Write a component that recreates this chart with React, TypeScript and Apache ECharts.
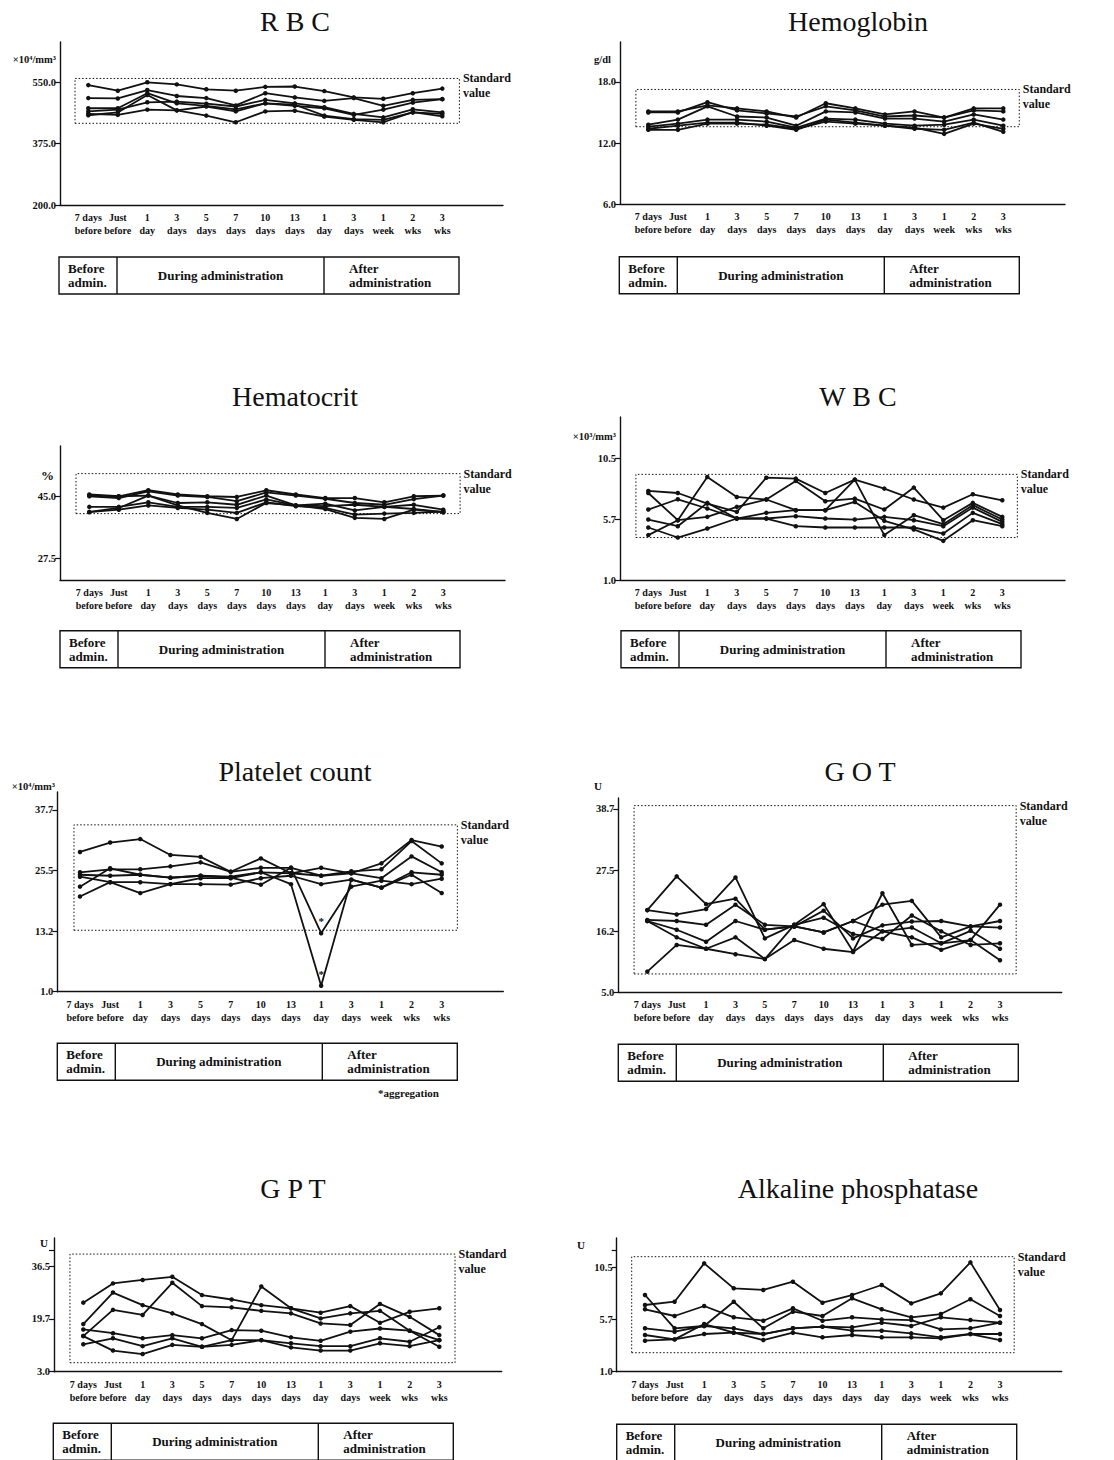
import { useEffect, useRef } from "react";
import * as echarts from "echarts";

// Sampling points along the x axis (shared by all eight panels)
const CATEGORIES = [
  "7 days\nbefore", "Just\nbefore", "1\nday", "3\ndays", "5\ndays", "7\ndays",
  "10\ndays", "13\ndays", "1\nday", "3\ndays", "1\nweek", "2\nwks", "3\nwks",
];

const PHASES = ["Before\nadmin.", "During administration", "After\nadministration"];
const STANDARD_LABEL = "Standard\nvalue";
const AGGREGATION_NOTE = "*aggregation";

// RBC (×10⁴/mm³), one row per subject
const RBC_VALUES = [
  [542, 526, 550, 544, 530, 526, 537, 538, 525, 507, 503, 519, 532],
  [505, 504, 528, 511, 505, 484, 519, 507, 497, 505, 483, 500, 502],
  [476, 476, 519, 490, 483, 473, 490, 483, 476, 457, 472, 492, 502],
  [467, 472, 493, 495, 489, 481, 500, 490, 479, 460, 450, 473, 464],
  [460, 457, 472, 470, 481, 467, 490, 486, 455, 445, 443, 464, 460],
  [456, 464, 514, 470, 455, 436, 467, 469, 452, 443, 436, 465, 453],
];
const RBC_STANDARD = [433, 561];
const RBC_TICKS = [200, 375, 550];
const RBC_TICK_LABELS = ["200.0", "375.0", "550.0"];

// Hemoglobin (g/dl)
const HB_VALUES = [
  [15.1, 15.1, 15.7, 15.4, 15.1, 14.5, 15.9, 15.4, 14.8, 15.1, 14.5, 15.4, 15.4],
  [15.0, 15.0, 16.0, 15.2, 14.9, 14.6, 15.6, 15.2, 14.6, 14.7, 14.5, 15.2, 15.1],
  [13.8, 14.3, 15.6, 14.6, 14.5, 13.7, 15.1, 15.0, 14.4, 14.4, 14.1, 14.8, 14.3],
  [13.6, 13.9, 14.3, 14.3, 14.1, 13.5, 14.4, 14.3, 13.9, 13.7, 13.8, 14.3, 13.7],
  [13.4, 13.7, 14.0, 14.0, 13.7, 13.3, 14.3, 14.0, 13.7, 13.5, 12.9, 13.9, 13.4],
  [13.3, 13.3, 13.9, 13.9, 13.8, 13.4, 14.1, 13.9, 13.7, 13.4, 13.3, 14.0, 13.1],
];
const HB_STANDARD = [13.6, 17.25];
const HB_TICKS = [6, 12, 18];
const HB_TICK_LABELS = ["6.0", "12.0", "18.0"];

// Hematocrit (%)
const HCT_VALUES = [
  [45.5, 45.0, 46.7, 45.5, 45.0, 44.8, 46.7, 45.5, 44.5, 44.5, 43.3, 45.0, 45.2],
  [45.0, 44.5, 46.4, 45.2, 44.8, 43.6, 46.1, 45.2, 44.3, 43.1, 42.6, 44.2, 45.2],
  [45.2, 45.0, 45.2, 43.1, 43.3, 42.6, 45.2, 42.4, 42.2, 42.6, 42.0, 42.6, 41.2],
  [42.0, 42.0, 43.3, 42.0, 42.0, 41.7, 44.1, 42.4, 42.9, 41.0, 42.0, 41.4, 40.5],
  [40.5, 41.2, 42.4, 41.7, 41.2, 40.3, 43.3, 42.2, 41.7, 39.8, 40.1, 40.3, 40.7],
  [40.6, 41.7, 45.2, 42.4, 40.3, 38.6, 43.1, 42.4, 41.4, 38.9, 38.6, 41.2, 40.5],
];
const HCT_STANDARD = [40.1, 51.4];
const HCT_TICKS = [27.5, 45];
const HCT_TICK_LABELS = ["27.5", "45.0"];

// WBC (×10³/mm³)
const WBC_VALUES = [
  [7.94, 7.78, 6.95, 6.31, 8.97, 8.9, 7.78, 8.82, 8.12, 7.27, 6.64, 7.68, 7.21],
  [7.78, 5.66, 9.03, 7.47, 7.27, 8.72, 7.14, 7.34, 6.49, 8.2, 5.66, 7.01, 5.92],
  [6.49, 7.29, 6.57, 5.79, 6.23, 6.44, 6.44, 8.82, 4.5, 6.05, 5.35, 6.83, 5.71],
  [5.71, 5.19, 7.01, 5.79, 5.79, 5.97, 5.79, 5.71, 5.92, 5.66, 5.19, 6.64, 5.53],
  [5.09, 4.31, 5.01, 5.79, 5.79, 5.19, 5.09, 5.09, 5.09, 5.09, 4.62, 6.23, 5.35],
  [4.5, 5.66, 5.92, 6.7, 7.27, 6.44, 6.44, 7.08, 5.61, 4.94, 4.05, 5.66, 5.19],
];
const WBC_STANDARD = [4.31, 9.23];
const WBC_TICKS = [1, 5.75, 10.5];
const WBC_TICK_LABELS = ["1.0", "5.7", "10.5"];

// Platelet count (×10⁴/mm³)
const PLT_VALUES = [
  [29.2, 31.1, 31.8, 28.6, 28.2, 25.2, 27.9, 24.9, 26.0, 24.9, 26.9, 31.6, 30.3],
  [25.1, 25.7, 25.7, 26.3, 27.1, 25.2, 26.0, 26.0, 24.4, 25.3, 25.7, 31.4, 26.9],
  [24.6, 24.4, 24.6, 24.0, 24.4, 24.2, 25.1, 24.9, 24.4, 24.9, 23.9, 28.3, 25.1],
  [24.2, 23.1, 23.1, 22.7, 22.7, 22.6, 23.9, 24.4, 22.7, 23.6, 22.0, 25.1, 24.6],
  [22.2, 25.9, 24.6, 24.0, 24.4, 24.0, 22.6, 26.0, 12.8, 22.2, 23.4, 22.7, 23.8],
  [20.2, 23.1, 20.9, 22.7, 23.9, 23.9, 25.1, 22.7, 2.2, 23.6, 22.0, 24.6, 20.9],
];
const PLT_STANDARD = [13.4, 34.67];
const PLT_TICKS = [1, 13.23, 25.47, 37.7];
const PLT_TICK_LABELS = ["1.0", "13.2", "25.5", "37.7"];
// subjects whose "1 day after" sample showed platelet aggregation
const PLT_AGGREGATED_ROWS = [4, 5];
const PLT_AGGREGATED_INDEX = 8;

// GOT (U)
const GOT_VALUES = [
  [20.1, 26.3, 21.2, 22.2, 16.5, 17.1, 16.0, 18.1, 16.2, 16.9, 14.0, 14.6, 21.1],
  [20.1, 19.3, 20.3, 26.1, 14.9, 17.4, 21.2, 12.5, 23.2, 13.7, 14.0, 16.3, 13.0],
  [18.3, 18.1, 17.4, 21.1, 17.4, 17.1, 20.0, 14.9, 17.3, 18.0, 18.1, 17.1, 18.1],
  [18.1, 16.5, 14.3, 18.1, 16.5, 17.1, 16.0, 18.1, 21.1, 21.8, 15.1, 17.1, 16.9],
  [18.1, 15.1, 13.0, 15.1, 11.1, 17.4, 18.7, 15.7, 14.8, 19.1, 16.2, 13.7, 14.0],
  [8.8, 13.7, 13.0, 12.0, 11.1, 14.6, 13.0, 12.4, 16.2, 15.1, 12.8, 14.6, 10.9],
];
const GOT_STANDARD = [8.37, 39.3];
const GOT_TICKS = [5, 16.23, 27.47, 38.7];
const GOT_TICK_LABELS = ["5.0", "16.2", "27.5", "38.7"];

// GPT (U)
const GPT_VALUES = [
  [24.9, 31.0, 32.1, 33.1, 27.3, 25.9, 24.1, 23.1, 21.7, 23.8, 18.5, 22.0, 23.1],
  [18.1, 28.1, 24.1, 21.5, 18.1, 13.0, 30.0, 23.1, 19.9, 21.5, 22.3, 16.0, 10.9],
  [14.3, 22.6, 21.0, 31.2, 23.8, 23.4, 22.3, 21.5, 18.3, 17.8, 24.5, 20.4, 14.6],
  [16.4, 15.2, 13.6, 14.6, 13.6, 16.2, 16.0, 13.9, 12.8, 15.7, 16.7, 16.0, 13.0],
  [11.7, 13.6, 11.1, 13.6, 10.9, 13.0, 13.0, 12.0, 11.1, 11.1, 13.6, 12.5, 17.1],
  [14.3, 9.7, 8.6, 11.5, 10.9, 11.5, 13.0, 10.7, 9.7, 9.7, 12.0, 11.1, 13.0],
];
const GPT_STANDARD = [5.85, 40.3];
const GPT_TICKS = [3, 19.75, 36.5];
const GPT_TICK_LABELS = ["3.0", "19.7", "36.5"];

// Alkaline phosphatase (U)
const ALP_VALUES = [
  [7.07, 7.37, 10.86, 8.59, 8.44, 9.19, 7.28, 7.98, 8.89, 7.22, 8.13, 10.95, 6.61],
  [7.98, 4.95, 5.16, 7.37, 4.95, 6.46, 6.07, 7.68, 6.68, 5.95, 6.25, 7.59, 6.07],
  [6.68, 6.07, 6.98, 5.95, 5.64, 6.77, 5.64, 5.95, 5.76, 5.7, 4.85, 4.95, 5.46],
  [4.34, 3.94, 5.34, 4.55, 4.43, 4.95, 5.1, 5.04, 5.46, 5.16, 5.95, 5.7, 5.46],
  [4.95, 4.64, 5.16, 4.95, 4.43, 4.95, 5.1, 4.73, 4.73, 4.49, 4.13, 4.43, 4.43],
  [3.82, 3.94, 4.43, 4.55, 3.88, 4.55, 4.13, 4.34, 4.13, 4.13, 4.04, 4.43, 3.88],
];
const ALP_STANDARD = [2.73, 11.47];
const ALP_TICKS = [1, 5.75, 10.5];
const ALP_TICK_LABELS = ["1.0", "5.7", "10.5"];

const INK = "#111111";
const SERIF = '"Liberation Serif", "DejaVu Serif", serif';

type Layout = {
  axisX: number; topY: number; bottomY: number; xRight: number;
  x0: number; x12: number; stdX: [number, number];
  titleX: number; titleY: number; unitX: number; unitY: number;
  phaseX: number; phaseY: number;
};

type Panel = {
  title: string; unit: string; unitSize: number;
  values: number[][]; standard: number[];
  ticks: number[]; tickLabels: string[]; extraTicks: number[];
  yMin: number; yMax: number; layout: Layout;
};

const PANELS: Panel[] = [
  {
    title: "R B C", unit: "×10⁴/mm³", unitSize: 10.5, values: RBC_VALUES, standard: RBC_STANDARD,
    ticks: RBC_TICKS, tickLabels: RBC_TICK_LABELS, extraTicks: [], yMin: 200, yMax: 665,
    layout: { axisX: 60, topY: 42, bottomY: 205, xRight: 503, x0: 88.3, x12: 442.3, stdX: [-0.45, 12.58],
      titleX: 295, titleY: 21, unitX: 56, unitY: 59, phaseX: 59, phaseY: 257 },
  },
  {
    title: "Hemoglobin", unit: "g/dl", unitSize: 10.5, values: HB_VALUES, standard: HB_STANDARD,
    ticks: HB_TICKS, tickLabels: HB_TICK_LABELS, extraTicks: [], yMin: 6, yMax: 21.9,
    layout: { axisX: 620, topY: 42, bottomY: 204.3, xRight: 1065, x0: 648.3, x12: 1003.3, stdX: [-0.42, 12.54],
      titleX: 858, titleY: 21, unitX: 611, unitY: 59, phaseX: 619.3, phaseY: 256.7 },
  },
  {
    title: "Hematocrit", unit: "%", unitSize: 13, values: HCT_VALUES, standard: HCT_STANDARD,
    ticks: HCT_TICKS, tickLabels: HCT_TICK_LABELS, extraTicks: [], yMin: 21.35, yMax: 59.2,
    layout: { axisX: 60, topY: 446, bottomY: 580, xRight: 505, x0: 89.3, x12: 443.3, stdX: [-0.45, 12.57],
      titleX: 295, titleY: 396, unitX: 54, unitY: 475, phaseX: 60, phaseY: 630.7 },
  },
  {
    title: "W B C", unit: "×10³/mm³", unitSize: 10.5, values: WBC_VALUES, standard: WBC_STANDARD,
    ticks: WBC_TICKS, tickLabels: WBC_TICK_LABELS, extraTicks: [], yMin: 1, yMax: 13.7,
    layout: { axisX: 620, topY: 417, bottomY: 580, xRight: 1065, x0: 648.3, x12: 1002.3, stdX: [-0.42, 12.51],
      titleX: 858, titleY: 396, unitX: 616, unitY: 436, phaseX: 621, phaseY: 630.7 },
  },
  {
    title: "Platelet count", unit: "×10⁴/mm³", unitSize: 10.5, values: PLT_VALUES, standard: PLT_STANDARD,
    ticks: PLT_TICKS, tickLabels: PLT_TICK_LABELS, extraTicks: [], yMin: 1, yMax: 41.3,
    layout: { axisX: 57.3, topY: 792, bottomY: 991.7, xRight: 503.3, x0: 80, x12: 441.7, stdX: [-0.2, 12.52],
      titleX: 295, titleY: 771, unitX: 55, unitY: 786, phaseX: 57.3, phaseY: 1043.3 },
  },
  {
    title: "G O T", unit: "U", unitSize: 11, values: GOT_VALUES, standard: GOT_STANDARD,
    ticks: GOT_TICKS, tickLabels: GOT_TICK_LABELS, extraTicks: [], yMin: 5, yMax: 40.7,
    layout: { axisX: 618.3, topY: 798, bottomY: 992.3, xRight: 1061.7, x0: 647.3, x12: 1000, stdX: [-0.45, 12.55],
      titleX: 860, titleY: 771, unitX: 602, unitY: 786, phaseX: 618.3, phaseY: 1044.3 },
  },
  {
    title: "G P T", unit: "U", unitSize: 11, values: GPT_VALUES, standard: GPT_STANDARD,
    ticks: GPT_TICKS, tickLabels: GPT_TICK_LABELS, extraTicks: [41.57], yMin: 3, yMax: 45.4,
    layout: { axisX: 54, topY: 1238, bottomY: 1371.7, xRight: 501.7, x0: 83.3, x12: 439.3, stdX: [-0.45, 12.53],
      titleX: 293, titleY: 1188, unitX: 48, unitY: 1243, phaseX: 53.3, phaseY: 1423.3 },
  },
  {
    title: "Alkaline phosphatase", unit: "U", unitSize: 11, values: ALP_VALUES, standard: ALP_STANDARD,
    ticks: ALP_TICKS, tickLabels: ALP_TICK_LABELS, extraTicks: [12.07], yMin: 1, yMax: 13.17,
    layout: { axisX: 616.7, topY: 1238, bottomY: 1371.7, xRight: 1061.7, x0: 645, x12: 1000, stdX: [-0.45, 12.48],
      titleX: 858, titleY: 1188, unitX: 585, unitY: 1245, phaseX: 616.7, phaseY: 1424.3 },
  },
];

const PHASE_W = 400;
const PHASE_H = 37;
const DIV_1 = 58;
const DIV_2 = 265;
const INDICES = CATEGORIES.map((_, i) => i);

function tickText(ticks: number[], labels: string[], v: number) {
  let best = 0;
  ticks.forEach((t, i) => {
    if (Math.abs(t - v) < Math.abs(ticks[best] - v)) best = i;
  });
  return Math.abs(ticks[best] - v) < 1e-6 * Math.max(1, Math.abs(v)) + 1e-9 ? labels[best] : "";
}

function buildOption() {
  const grid: any[] = [];
  const xAxis: any[] = [];
  const yAxis: any[] = [];
  const series: any[] = [];
  const graphic: any[] = [];

  PANELS.forEach((p, k) => {
    const L = p.layout;
    const step = (L.x12 - L.x0) / 12;
    grid.push({
      left: L.axisX, top: L.topY,
      width: L.xRight - L.axisX, height: L.bottomY - L.topY,
      containLabel: false,
    });
    xAxis.push({
      gridIndex: k, type: "value",
      min: -(L.x0 - L.axisX) / step,
      max: 12 + (L.xRight - L.x12) / step,
      axisLine: { show: true, onZero: false, lineStyle: { color: INK, width: 1.4 } },
      axisTick: { show: false },
      splitLine: { show: false },
      axisLabel: {
        customValues: INDICES,
        showMinLabel: true, showMaxLabel: true, hideOverlap: false,
        formatter: (v: number) => CATEGORIES[Math.round(v)] ?? "",
        color: INK, fontFamily: SERIF, fontWeight: "bold", fontSize: 10,
        lineHeight: 13, margin: 6,
      },
    });
    yAxis.push({
      gridIndex: k, type: "value", min: p.yMin, max: p.yMax,
      axisLine: { show: true, onZero: false, lineStyle: { color: INK, width: 1.4 } },
      axisTick: { show: true, customValues: [...p.ticks, ...p.extraTicks], length: 5, lineStyle: { color: INK, width: 1.2 } },
      splitLine: { show: false },
      axisLabel: {
        customValues: p.ticks,
        showMinLabel: true, showMaxLabel: true, hideOverlap: false,
        formatter: (v: number) => tickText(p.ticks, p.tickLabels, v),
        color: INK, fontFamily: SERIF, fontWeight: "bold", fontSize: 10.5, margin: 4,
      },
    });

    p.values.forEach((row, j) => {
      const aggregated = k === 4 && PLT_AGGREGATED_ROWS.includes(j);
      series.push({
        type: "line",
        xAxisIndex: k, yAxisIndex: k,
        data: row.map((v, i) =>
          aggregated && i === PLT_AGGREGATED_INDEX
            ? {
                value: [i, v],
                label: {
                  show: true, position: "top", distance: 4, formatter: "*",
                  color: INK, fontFamily: SERIF, fontWeight: "bold", fontSize: 11,
                },
              }
            : [i, v]
        ),
        symbol: "circle",
        symbolSize: 4.5,
        lineStyle: { color: INK, width: 1.8 },
        itemStyle: { color: INK },
        silent: true,
        z: 3,
        markArea:
          j === 0
            ? {
                silent: true,
                itemStyle: { color: "rgba(0,0,0,0)", borderColor: INK, borderWidth: 1, borderType: [1.5, 2] },
                label: {
                  show: true, position: ["100%", 0], offset: [3, -7],
                  formatter: STANDARD_LABEL,
                  color: INK, fontFamily: SERIF, fontWeight: "bold", fontSize: 12, lineHeight: 15,
                  align: "left", verticalAlign: "top",
                },
                data: [[{ coord: [L.stdX[0], p.standard[0]] }, { coord: [L.stdX[1], p.standard[1]] }]],
              }
            : undefined,
      });
    });

    // panel title and unit
    graphic.push({
      type: "text", x: L.titleX, y: L.titleY,
      style: { text: p.title, fill: INK, fontFamily: SERIF, fontSize: 28, align: "center", verticalAlign: "middle" },
    });
    graphic.push({
      type: "text", x: L.unitX, y: L.unitY,
      style: { text: p.unit, fill: INK, fontFamily: SERIF, fontWeight: "bold", fontSize: p.unitSize, align: "right", verticalAlign: "middle" },
    });

    // administration phase strip under the axis
    const px = L.phaseX;
    const py = L.phaseY;
    const textStyle = { fill: INK, fontFamily: SERIF, fontWeight: "bold", fontSize: 13, lineHeight: 14, verticalAlign: "middle" };
    graphic.push({
      type: "rect", shape: { x: px, y: py, width: PHASE_W, height: PHASE_H },
      style: { fill: "none", stroke: INK, lineWidth: 1.4 },
    });
    [DIV_1, DIV_2].forEach((d) =>
      graphic.push({
        type: "line", shape: { x1: px + d, y1: py, x2: px + d, y2: py + PHASE_H },
        style: { stroke: INK, lineWidth: 1.4 },
      })
    );
    graphic.push({ type: "text", x: px + 9, y: py + PHASE_H / 2, style: { ...textStyle, text: PHASES[0], align: "left" } });
    graphic.push({ type: "text", x: px + (DIV_1 + DIV_2) / 2, y: py + PHASE_H / 2, style: { ...textStyle, text: PHASES[1], align: "center" } });
    graphic.push({ type: "text", x: px + DIV_2 + 25, y: py + PHASE_H / 2, style: { ...textStyle, text: PHASES[2], align: "left" } });
  });

  graphic.push({
    type: "text", x: 378, y: 1093,
    style: { text: AGGREGATION_NOTE, fill: INK, fontFamily: SERIF, fontWeight: "bold", fontSize: 11, align: "left", verticalAlign: "middle" },
  });

  return {
    animation: false,
    backgroundColor: "#ffffff",
    grid, xAxis, yAxis, series, graphic,
  };
}

export default function App() {
  const ref = useRef<HTMLDivElement>(null);
  useEffect(() => {
    if (!ref.current) return;
    const chart = echarts.init(ref.current, undefined, { renderer: "svg" });
    chart.setOption(buildOption() as any);
    return () => chart.dispose();
  }, []);
  return (
    <div
      ref={ref}
      style={{ position: "absolute", left: 0, top: 0, width: 1114, height: 1460, background: "#fff" }}
    />
  );
}
